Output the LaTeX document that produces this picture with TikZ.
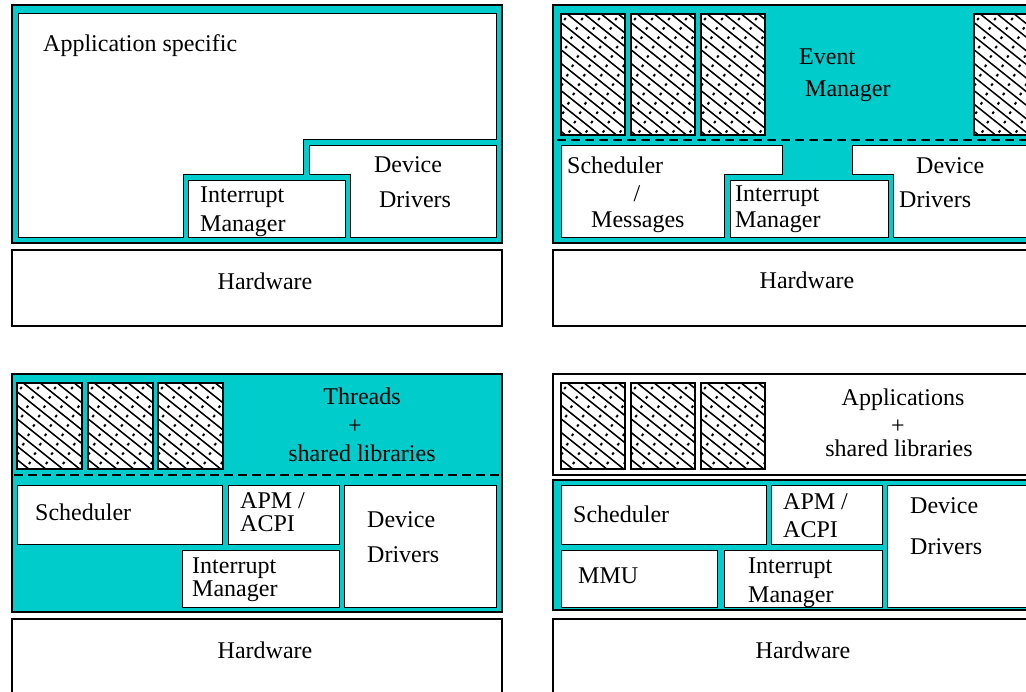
\documentclass[tikz,border=0pt]{standalone}
\usepackage{fontspec}
\setmainfont{Liberation Serif}
\usepackage{xcolor}
\usetikzlibrary{calc}
\definecolor{osteal}{RGB}{0,204,204}

\begin{document}
\begin{tikzpicture}[
    x=1pt, y=-1pt,
    frame/.style={draw=black, fill=osteal, line width=1.6pt},
    block/.style={draw=black, fill=white, line width=1pt},
    hwbox/.style={draw=black, fill=white, line width=1.6pt},
    hatchbox/.style={draw=black, fill=white, line width=1.3pt,
        path picture={
            \foreach \k in {-12,...,4} {
                \draw[line width=1.5pt] ($(path picture bounding box.north west)+(\k*17,-5)$) -- ++(200,160);
                \draw[line width=2.6pt, dash pattern=on 2pt off 13pt] ($(path picture bounding box.north west)+(\k*17+8.5,-5)$) -- ++(200,160);
            }
        }},
    sep/.style={line width=1.3pt, dash pattern=on 9pt off 5pt},
    lbl/.style={font=\fontsize{24}{27}\selectfont, inner sep=0pt, anchor=base west},
    clbl/.style={lbl, anchor=base}
]
\clip (0,0) rectangle (1026,692);
\fill[white] (0,0) rectangle (1026,692);

% top left: monolithic
\draw[frame] (12,5) rectangle (502,243);
\draw[block] (18,238) -- (18,14) -- (496,14) -- (496,140) -- (303,140) -- (303,175) -- (183,175) -- (183,238) -- cycle;
\draw[block] (188,181) rectangle (345,238);
\draw[block] (309,146) -- (496,146) -- (496,238) -- (350,238) -- (350,175) -- (309,175) -- cycle;
\draw[hwbox] (12,250) rectangle (502,326);
\node[lbl] (appspec) at (43,52) {Application specific};
\node[lbl] (irqA1) at (200,203) {Interrupt};
\node[lbl] (irqA2) at (200,232) {Manager};
\node[clbl] (devA1) at (408,173) {Device};
\node[clbl] (devA2) at (415,208) {Drivers};
\node[clbl] (hwA) at (265,290) {Hardware};

% top right: event manager
\draw[frame] (553,5) rectangle (1045,243);
\foreach \hx in {561,631,701,974} {\draw[hatchbox] (\hx,14) rectangle ++(64,121);}
\draw[sep] (557,140) -- (1045,140);
\draw[block] (561,146) -- (782,146) -- (782,175) -- (724,175) -- (724,238) -- (561,238) -- cycle;
\draw[block] (730,181) rectangle (888,238);
\draw[block] (852,146) -- (1040,146) -- (1040,238) -- (893,238) -- (893,175) -- (852,175) -- cycle;
\draw[hwbox] (553,250) rectangle (1045,326);
\node[lbl] (evtB1) at (799,65) {Event};
\node[lbl] (evtB2) at (805,97) {Manager};
\node[lbl] (schB1) at (567,174) {Scheduler};
\node[clbl] (schB2) at (637,202) {/};
\node[lbl] (schB3) at (591,228) {Messages};
\node[lbl] (irqB1) at (735,202) {Interrupt};
\node[lbl] (irqB2) at (735,228) {Manager};
\node[lbl] (devB1) at (916,174) {Device};
\node[lbl] (devB2) at (899,208) {Drivers};
\node[clbl] (hwB) at (807,289) {Hardware};

% bottom left: threads
\draw[frame] (12,374) rectangle (502,612);
\foreach \hx in {17,88,158} {\draw[hatchbox] (\hx,383) rectangle ++(65,86);}
\draw[sep] (14,475) -- (500,475);
\draw[block] (17,486) rectangle (222,544);
\draw[block] (228,486) rectangle (339,544);
\draw[block] (182,550) rectangle (339,607);
\draw[block] (344,486) rectangle (496,607);
\draw[hwbox] (12,619) rectangle (502,720);
\node[clbl] (thrC1) at (362,405) {Threads};
\node[clbl] (thrC2) at (355,434) {+};
\node[clbl] (thrC3) at (362,462) {shared libraries};
\node[lbl] (schC) at (35,521) {Scheduler};
\node[lbl] (apmC1) at (240,508) {APM /};
\node[lbl] (apmC2) at (240,532) {ACPI};
\node[lbl] (irqC1) at (192,573) {Interrupt};
\node[lbl] (irqC2) at (192,596) {Manager};
\node[lbl] (devC1) at (367,527) {Device};
\node[lbl] (devC2) at (367,562) {Drivers};
\node[clbl] (hwC) at (265,658) {Hardware};

% bottom right: applications
\draw[hwbox] (553,374) rectangle (1045,475);
\foreach \hx in {561,631,701} {\draw[hatchbox] (\hx,383) rectangle ++(64,86);}
\draw[frame] (553,480) rectangle (1045,610);
\draw[block] (561,486) rectangle (766,544);
\draw[block] (771,486) rectangle (882,544);
\draw[block] (561,550) rectangle (717,607);
\draw[block] (724,550) rectangle (882,607);
\draw[block] (887,486) rectangle (1040,607);
\draw[hwbox] (553,619) rectangle (1045,720);
\node[clbl] (appD1) at (903,406) {Applications};
\node[clbl] (appD2) at (898,434) {+};
\node[clbl] (appD3) at (899,457) {shared libraries};
\node[lbl] (schD) at (573,522) {Scheduler};
\node[lbl] (apmD1) at (783,509) {APM /};
\node[lbl] (apmD2) at (783,537) {ACPI};
\node[lbl] (mmuD) at (578,583) {MMU};
\node[lbl] (irqD1) at (748,573) {Interrupt};
\node[lbl] (irqD2) at (748,602) {Manager};
\node[lbl] (devD1) at (910,514) {Device};
\node[lbl] (devD2) at (910,554) {Drivers};
\node[clbl] (hwD) at (803,658) {Hardware};
\end{tikzpicture}
\end{document}
